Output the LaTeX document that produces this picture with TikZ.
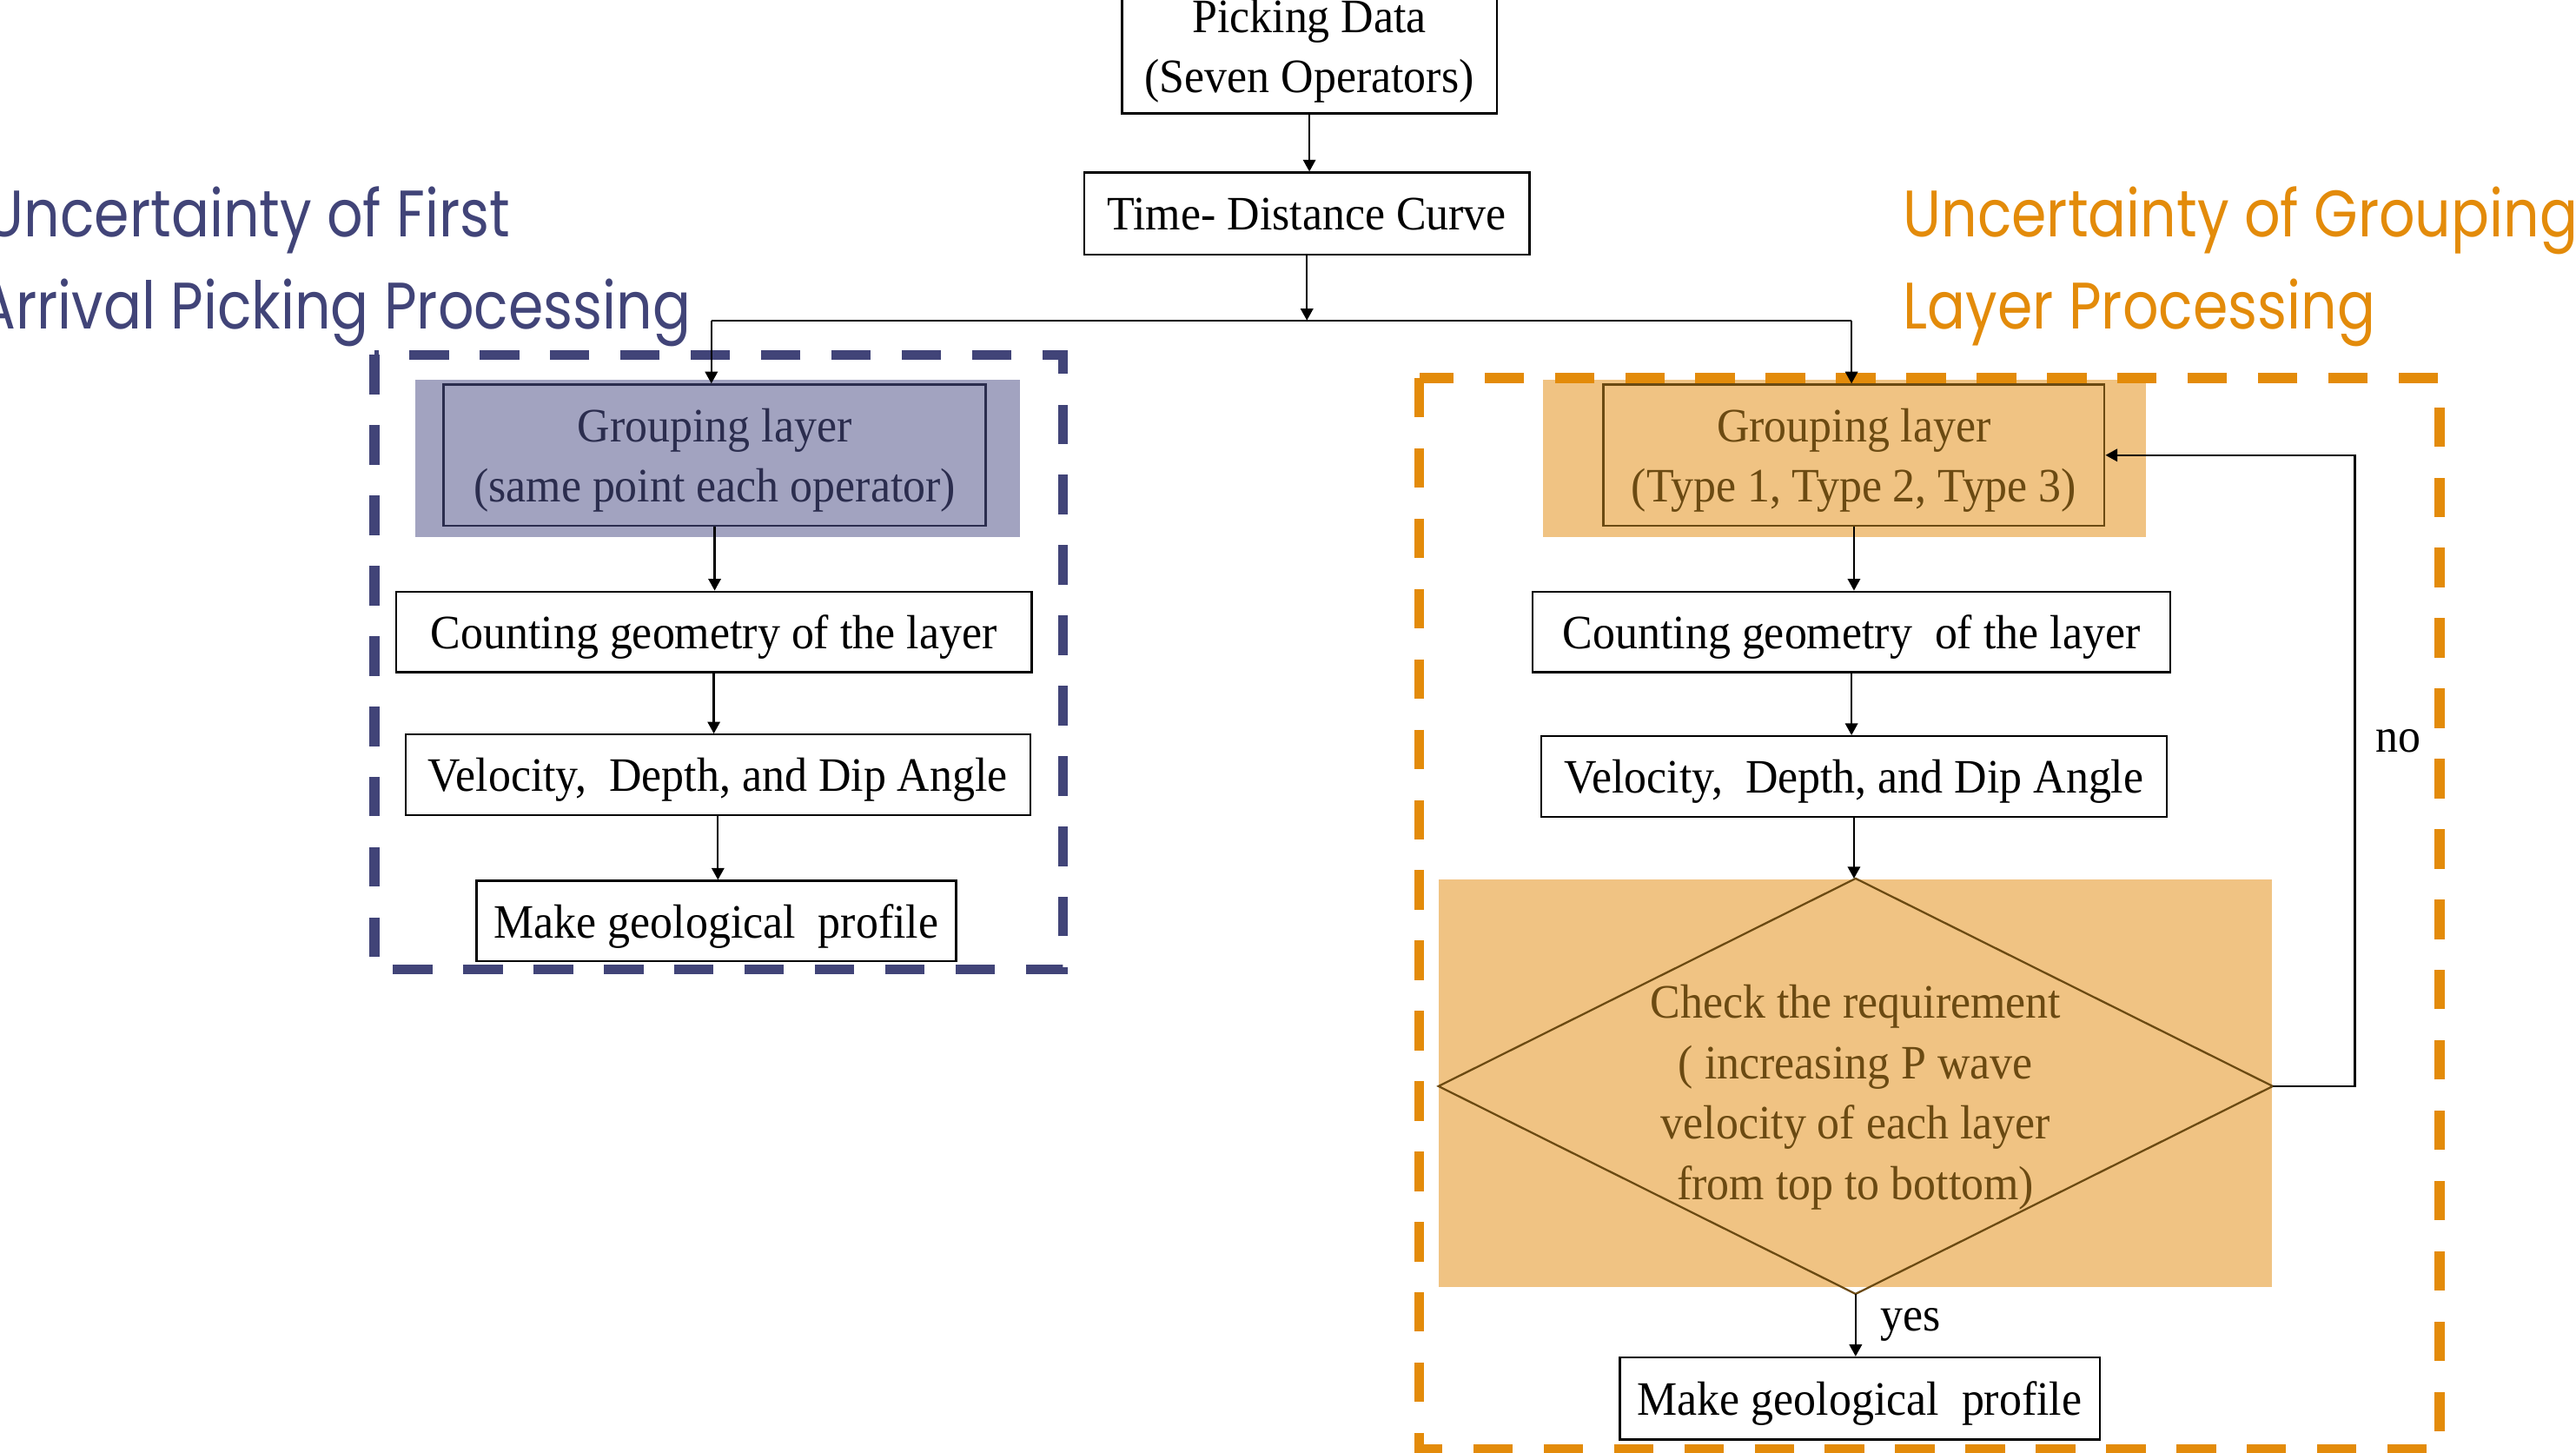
\documentclass[tikz,border=0pt]{standalone}
\usepackage{fontspec}
\setmainfont{Liberation Serif}[FakeStretch=0.94]
\newfontfamily\titlefont[FakeStretch=0.86]{Poppins}
\usetikzlibrary{arrows.meta}
\definecolor{navy}{HTML}{414478}
\definecolor{navyfill}{HTML}{A2A3C0}
\definecolor{navytext}{HTML}{2B2D4E}
\definecolor{amber}{HTML}{E38B0A}
\definecolor{amberfill}{HTML}{F0C383}
\definecolor{brownline}{HTML}{6B4A12}

\begin{document}
\begin{tikzpicture}[x=0.5pt,y=-0.5pt,
    >={Triangle[length=3.6pt,width=3.8pt]},
    every node/.style={font=\fontsize{14.6}{18.4}\selectfont},
    box/.style={draw,line width=0.6pt,inner sep=0pt,text depth=0pt,minimum height=24.5pt,align=center},
    panel/.style={fill=#1,inner sep=0pt},
    title/.style={font=\titlefont\fontsize{20}{27}\selectfont,inner sep=0pt},
    frame/.style={draw=#1,line width=3pt,dash pattern=on 12pt off 9.4pt}]
    \useasboundingbox (0,0) rectangle (1568,884);

    \node[title,anchor=base west,text=navy] (ltitleA) at (-9,144) {Uncertainty of First};
    \node[title,anchor=base west,text=navy] (ltitleB) at (-14,200) {Arrival Picking Processing};
    \node[title,anchor=base west,text=amber] (rtitleA) at (1158,144) {Uncertainty of Grouping};
    \node[title,anchor=base west,text=amber] (rtitleB) at (1158,200) {Layer Processing};

    \node[box,minimum width=114pt,minimum height=41pt] (pick) at (797,28) {Picking Data\\(Seven Operators)};
    \node[box,minimum width=135.5pt,minimum height=25pt] (td) at (795.5,130) {Time- Distance Curve};

    \node[panel=navyfill,minimum width=184pt,minimum height=48pt] (lpanel) at (437,279) {};
    \node[box,draw=navytext,text=navytext,minimum width=165pt,minimum height=43pt] (lgroup) at (435,277) {Grouping layer\\(same point each operator)};
    \node[box,minimum width=193.5pt] (lcount) at (434.5,384.5) {Counting geometry of the layer};
    \node[box,minimum width=190pt] (lvel) at (437,471.5) {Velocity,\ \ Depth, and Dip Angle};
    \node[box,minimum width=146pt] (lmake) at (436,560.5) {Make geological\ \ profile};

    \node[panel=amberfill,minimum width=183.5pt,minimum height=48pt] (rpanel) at (1122.5,279) {};
    \node[box,draw=brownline,text=brownline,minimum width=152.5pt,minimum height=43pt] (rgroup) at (1128.5,277) {Grouping layer\\(Type 1, Type 2, Type 3)};
    \node[box,minimum width=194pt] (rcount) at (1127,384.5) {Counting geometry\ \ of the layer};
    \node[box,minimum width=190.5pt] (rvel) at (1128.5,472.5) {Velocity,\ \ Depth, and Dip Angle};
    \node[panel=amberfill,minimum width=253.5pt,minimum height=124pt] (cpanel) at (1129.5,659) {};
    \node[text=brownline,inner sep=0pt,text height=69pt,text depth=0pt,minimum width=253.5pt,minimum height=126pt,align=center] (check) at (1129.5,661)
        {Check the requirement\\( increasing P wave\\velocity of each layer\\from top to bottom)};
    \draw[brownline,line width=0.6pt] (check.north) -- (check.east) -- (check.south) -- (check.west) -- cycle;
    \node[box,minimum width=146pt,minimum height=25pt] (rmake) at (1132,851) {Make geological\ \ profile};

    \draw[frame=navy] (228,216) rectangle (647,590);
    \draw[frame=amber] (864,230) rectangle (1485,882);

    \coordinate (busL) at (433,195);
    \coordinate (busR) at (1127,195);
    \draw[line width=0.6pt,->] (pick.south) -- (pick.south |- td.north);
    \draw[line width=0.6pt,->] (td.south) -- (td.south |- busL);
    \draw[line width=0.6pt] (busL) -- (busR);
    \draw[line width=0.6pt,->] (busL) -- (busL |- lgroup.north);
    \draw[line width=0.6pt,->] (busR) -- (busR |- rgroup.north);
    \foreach \a/\b in {lgroup/lcount,lcount/lvel,lvel/lmake,rgroup/rcount,rcount/rvel,rvel/check}
      \draw[line width=0.6pt,->] (\a.south) -- (\a.south |- \b.north);
    \draw[line width=0.6pt,->] (check.south) -- (check.south |- rmake.north) node[midway,right=4pt] (yes) {yes};
    \draw[line width=0.6pt,->] (check.east) -- ++(50,0) |- (rgroup.east);
    \node (no) at (1460,451) {no};
\end{tikzpicture}
\end{document}
